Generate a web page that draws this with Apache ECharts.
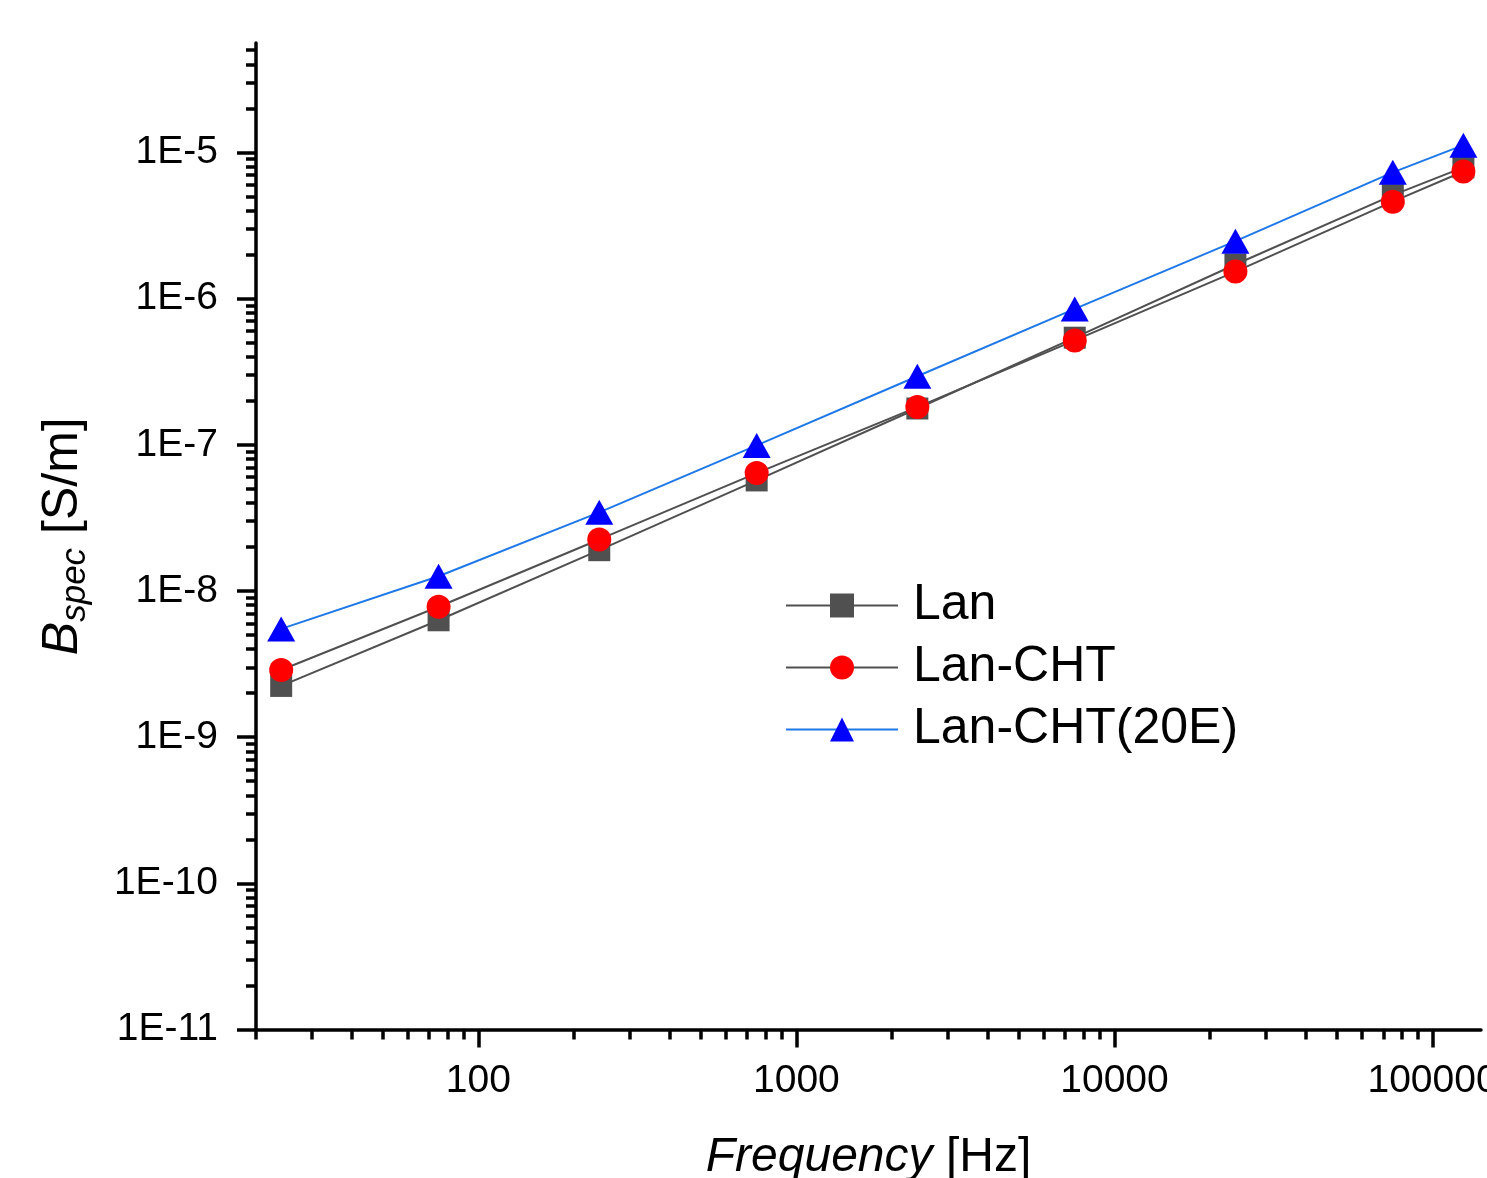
<!DOCTYPE html>
<html>
<head>
<meta charset="utf-8">
<script src="https://cdn.jsdelivr.net/npm/echarts@6/dist/echarts.min.js"></script>
<style>
html,body{margin:0;padding:0;background:#fff;}
#chart{width:1487px;height:1178px;}
</style>
</head>
<body>
<div id="chart"></div>
<script>
// Frequency [Hz]
const freq = [24, 75, 240, 750, 2400, 7500, 24000, 75000, 125000];
// B_spec [S/m]
const lan = [2.24e-9, 6.3e-9, 1.9e-8, 5.7e-8, 1.77e-7, 5.4e-7, 1.71e-6, 5.1e-6, 7.9e-6];
const lanCHT = [2.88e-9, 7.8e-9, 2.25e-8, 6.4e-8, 1.81e-7, 5.17e-7, 1.53e-6, 4.6e-6, 7.4e-6];
const lan20E = [5.5e-9, 1.26e-8, 3.45e-8, 9.9e-8, 2.94e-7, 8.5e-7, 2.47e-6, 7.3e-6, 1.12e-5];
const seriesNames = ['Lan', 'Lan-CHT', 'Lan-CHT(20E)'];

// tick values
const xMajorTicks = [100, 1000, 10000, 100000];
const xMinorTicks = [20,30,40,50,60,70,80,90,200,300,400,500,600,700,800,900,
  2000,3000,4000,5000,6000,7000,8000,9000,20000,30000,40000,50000,60000,70000,80000,90000];
const yMajorTicks = [1e-11, 1e-10, 1e-9, 1e-8, 1e-7, 1e-6, 1e-5];
const yMinorTicks = [];
[-11,-10,-9,-8,-7,-6,-5].forEach(function(e){
  [2,3,4,5,6,7,8,9].forEach(function(k){ const v = k * Math.pow(10, e); if (v <= 5.6e-5) yMinorTicks.push(v); });
});

const FONT = "'Liberation Sans', Arial, sans-serif";
const xMin = 20, xMax = 142000, yMin = 1e-11, yMax = 5.6e-5;

function pairs(ys){ return freq.map(function(f,i){ return [f, ys[i]]; }); }

const chart = echarts.init(document.getElementById('chart'), null, {renderer:'canvas'});
const axisBase = {
  type: 'log', logBase: 10, splitLine: {show:false}
};
chart.setOption({
  animation: false,
  backgroundColor: '#fff',
  grid: {left: 256, right: 6, top: 43, bottom: 148.5, containLabel: false, outerBoundsMode: 'none'},
  legend: {
    left: 785, top: 580, orient: 'vertical', padding: 0,
    itemWidth: 112, itemHeight: 30, itemGap: 11,
    textStyle: {fontFamily: FONT, fontSize: 50, color: '#000', lineHeight: 51, padding:[0,0,0,10]},
    data: seriesNames
  },
  xAxis: [
    Object.assign({}, axisBase, {
      min: xMin, max: xMax, position: 'bottom',
      name: '{i|Frequency} {n|[Hz]}', nameLocation: 'middle', nameGap: 104,
      nameTextStyle: {fontFamily: FONT, fontSize: 48, color:'#000',
        rich: {i:{fontStyle:'italic', fontFamily: FONT, fontSize: 48, color:'#000'}, n:{fontFamily: FONT, fontSize: 48, color:'#000'}}},
      axisLine: {show:true, onZero:false, lineStyle:{color:'#000', width:3.5}},
      axisTick: {show:true, inside:false, length:18, lineStyle:{color:'#000', width:3.5}, customValues: xMajorTicks},
      axisLabel: {show:true, margin: 32, fontFamily: FONT, fontSize: 39, color:'#000', customValues: xMajorTicks,
        formatter: function(v){ return String(Math.round(v)); }},
      minorTick: {show:false}
    }),
    Object.assign({}, axisBase, {
      min: xMin, max: xMax, position: 'bottom',
      axisLine: {show:false},
      axisTick: {show:true, inside:false, length:10, lineStyle:{color:'#000', width:3.5}, customValues: xMinorTicks},
      axisLabel: {show:false}
    })
  ],
  yAxis: [
    Object.assign({}, axisBase, {
      min: yMin, max: yMax, position: 'left',
      name: '{b|B}{s|spec} {n|[S/m]}', nameLocation: 'middle', nameGap: 163, nameRotate: 90,
      nameTextStyle: {fontFamily: FONT, fontSize: 50, color:'#000',
        rich: {
          b:{fontStyle:'italic', fontFamily: FONT, fontSize: 50, color:'#000', lineHeight: 60},
          s:{fontStyle:'italic', fontFamily: FONT, fontSize: 35, color:'#000', lineHeight: 60, padding:[24,0,0,0]},
          n:{fontFamily: FONT, fontSize: 50, color:'#000', lineHeight: 60}
        }},
      axisLine: {show:true, onZero:false, lineStyle:{color:'#000', width:3.5}},
      axisTick: {show:true, inside:false, length:19, lineStyle:{color:'#000', width:3.5}, customValues: yMajorTicks},
      axisLabel: {show:true, margin: 38, fontFamily: FONT, fontSize: 39, color:'#000', customValues: yMajorTicks,
        formatter: function(v){ return '1E' + Math.round(Math.log10(v)); }},
      minorTick: {show:false}
    }),
    Object.assign({}, axisBase, {
      min: yMin, max: yMax, position: 'left',
      axisLine: {show:false},
      axisTick: {show:true, inside:false, length:10, lineStyle:{color:'#000', width:3.5}, customValues: yMinorTicks},
      axisLabel: {show:false}
    })
  ],
  series: [
    {name: seriesNames[0], type:'line', data: pairs(lan), symbol:'rect', symbolSize: 22,
      itemStyle:{color:'#505050'}, lineStyle:{color:'#505050', width:2}},
    {name: seriesNames[1], type:'line', data: pairs(lanCHT), symbol:'circle', symbolSize: 24,
      itemStyle:{color:'#ff0000'}, lineStyle:{color:'#505050', width:2}},
    {name: seriesNames[2], type:'line', data: pairs(lan20E), symbol:'triangle', symbolSize: [28,25],
      itemStyle:{color:'#0000ff'}, lineStyle:{color:'#1f78e8', width:2}}
  ]
});
</script>
</body>
</html>
